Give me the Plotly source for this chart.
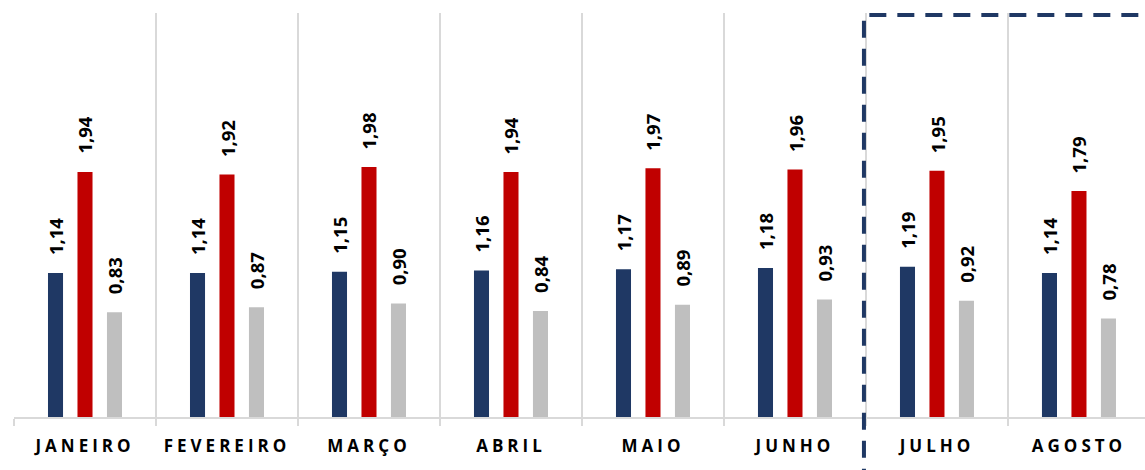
import plotly.graph_objects as go

meses = ["JANEIRO", "FEVEREIRO", "MARÇO", "ABRIL", "MAIO", "JUNHO", "JULHO", "AGOSTO"]
serie_azul = [1.14, 1.14, 1.15, 1.16, 1.17, 1.18, 1.19, 1.14]
serie_vermelha = [1.94, 1.92, 1.98, 1.94, 1.97, 1.96, 1.95, 1.79]
serie_cinza = [0.83, 0.87, 0.90, 0.84, 0.89, 0.93, 0.92, 0.78]

cores = ["#1F3864", "#C00000", "#BFBFBF"]
series = [serie_azul, serie_vermelha, serie_cinza]
nomes = ["Série 1", "Série 2", "Série 3"]

fig = go.Figure()
for nome, vals, cor in zip(nomes, series, cores):
    fig.add_trace(go.Bar(x=meses, y=vals, name=nome, marker=dict(color=cor, line=dict(width=0)),
                         hoverinfo="skip"))

def fmt(v):
    return f"{v:.2f}".replace(".", ",")

annotations = []
offsets = [-29.5, 0, 29.5]
for vals, dx in zip(series, offsets):
    for m, v in zip(meses, vals):
        annotations.append(dict(
            x=m, y=v, xref="x", yref="y", text=fmt(v), showarrow=False,
            textangle=-90, xanchor="center", yanchor="bottom",
            xshift=dx, yshift=16,
            font=dict(family="Open Sans", size=18.5, color="#000000", weight="bold"),
        ))

fig.update_layout(
    width=1145, height=470,
    margin=dict(l=14, r=0, t=13, b=53),
    paper_bgcolor="white", plot_bgcolor="white",
    barmode="group", bargap=0.377, bargroupgap=0.49,
    showlegend=False,
    annotations=annotations,
    shapes=[dict(
        type="rect", xref="paper", yref="paper",
        x0=0.7515, x1=1.05, y0=-0.3, y1=0.995,
        line=dict(color="#1F3864", width=4, dash="17px,11px"),
        fillcolor="rgba(0,0,0,0)", layer="above",
    )],
    xaxis=dict(
        range=[-0.5, 7.465], tickson="boundaries", showgrid=True,
        gridcolor="#D9D9D9", gridwidth=2,
        showline=True, linecolor="#D9D9D9", linewidth=2,
        ticks="outside", ticklen=7, tickcolor="#D9D9D9", tickwidth=2,
        ticklabelstandoff=13,
        tickfont=dict(family="Open Sans", size=17, color="#000000", weight="bold"),
        fixedrange=True,
    ),
    yaxis=dict(range=[0, 3.2], visible=False, showgrid=False, zeroline=False, fixedrange=True),
)

post = """
document.body.style.margin='0';
document.body.style.overflow='hidden';
var gd = document.getElementById('{plot_id}');
gd.querySelectorAll('.xtick text').forEach(function(t){ t.style.letterSpacing='4px'; });
"""

fig.write_html("out.html", post_script=post, config={"displayModeBar": False, "staticPlot": True})
